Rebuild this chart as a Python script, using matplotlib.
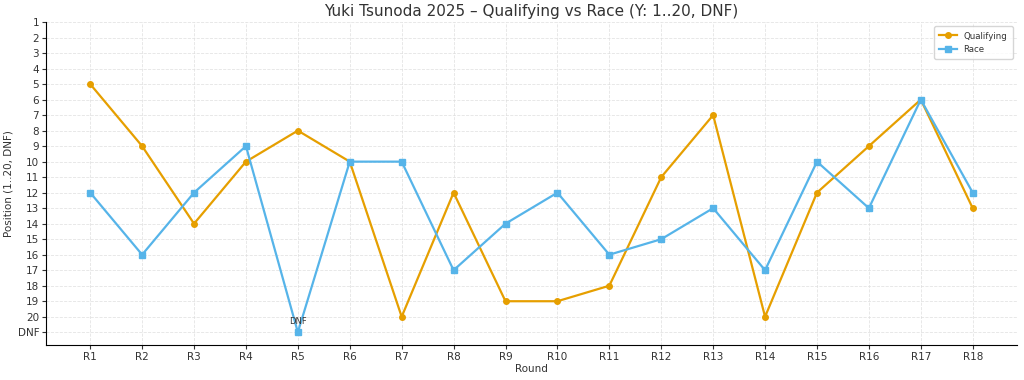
import matplotlib
matplotlib.use("Agg")
import matplotlib.pyplot as plt

rounds = [f"R{i}" for i in range(1, 19)]
qualifying = [5, 9, 14, 10, 8, 10, 20, 12, 19, 19, 18, 11, 7, 20, 12, 9, 6, 13]
race = [12, 16, 12, 9, 21, 10, 10, 17, 14, 12, 16, 15, 13, 17, 10, 13, 6, 12]  # 21 = DNF
y_ticks = list(range(1, 22))
y_labels = [str(i) for i in range(1, 21)] + ["DNF"]

plt.rcParams['text.color'] = '#333333'
plt.rcParams['axes.labelcolor'] = '#333333'
plt.rcParams['xtick.color'] = '#333333'
plt.rcParams['ytick.color'] = '#333333'

fig, ax = plt.subplots(figsize=(10.24, 3.8), dpi=100)
x = list(range(len(rounds)))

ax.plot(x, qualifying, marker='o', markersize=4, linewidth=1.6, color='#E69F00', label='Qualifying')
ax.plot(x, race, marker='s', markersize=4, linewidth=1.6, color='#56B4E9', label='Race')

# DNF 標註
for i, v in enumerate(race):
    if v == 21:
        ax.annotate('DNF', (i, v), xytext=(0, 6), textcoords='offset points',
                    ha='center', fontsize=6, color='#333333')

ax.set_xticks(x)
ax.set_xticklabels(rounds)
ax.set_yticks(y_ticks)
ax.set_yticklabels(y_labels)
ax.set_xlim(-0.85, 17.85)
ax.set_ylim(21.8, 1)

ax.set_title("Yuki Tsunoda 2025 – Qualifying vs Race (Y: 1..20, DNF)", fontsize=11, pad=4)
ax.set_xlabel('Round', fontsize=7.5, labelpad=2)
ax.set_ylabel('Position (1..20, DNF)', fontsize=7.5, labelpad=3)
ax.tick_params(labelsize=7.5, length=3, pad=2)

ax.grid(True, linestyle='--', linewidth=0.6, color='#dddddd', alpha=0.8)
ax.spines['top'].set_visible(False)
ax.spines['right'].set_visible(False)

ax.legend(loc='upper right', fontsize=6.2, borderpad=0.6)

fig.subplots_adjust(left=0.045, right=0.993, top=0.942, bottom=0.093)
fig.savefig('out.png', dpi=100)
